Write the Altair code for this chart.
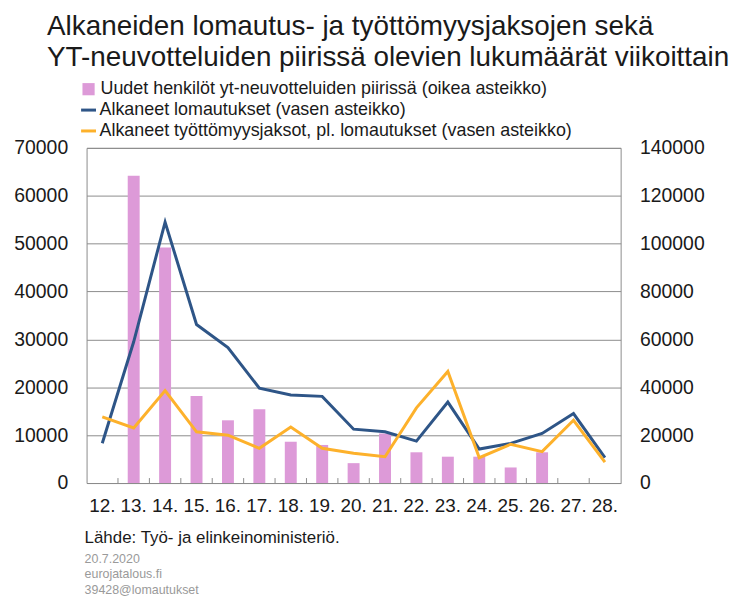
import altair as alt
import pandas as pd

# ---- data ----
weeks = ["12.", "13.", "14.", "15.", "16.", "17.", "18.", "19.", "20.",
         "21.", "22.", "23.", "24.", "25.", "26.", "27.", "28."]
layoffs = [8300, 29500, 54500, 33100, 28300, 19800, 18400, 18100, 11250,
           10700, 8760, 16900, 7100, 8280, 10350, 14500, 5300]
unemployment = [13800, 11500, 19300, 10700, 10000, 7250, 11700, 7250, 6200,
                5500, 15700, 23300, 5300, 8100, 6550, 13100, 4350]
yt_weeks = ["13.", "14.", "15.", "16.", "17.", "18.", "19.", "20.",
            "21.", "22.", "23.", "24.", "25.", "26."]
yt_people = [128400, 98400, 36300, 26200, 30800, 17250, 15900, 8300,
             20700, 12840, 11000, 11000, 6500, 12840]

left_ticks = [0, 10000, 20000, 30000, 40000, 50000, 60000, 70000]
right_ticks = [0, 20000, 40000, 60000, 80000, 100000, 120000, 140000]

series_bar = "Uudet henkilöt yt-neuvotteluiden piirissä (oikea asteikko)"
series_blue = "Alkaneet lomautukset (vasen asteikko)"
series_orange = "Alkaneet työttömyysjaksot, pl. lomautukset (vasen asteikko)"

title_lines = ["Alkaneiden lomautus- ja työttömyysjaksojen sekä",
               "YT-neuvotteluiden piirissä olevien lukumäärät viikoittain"]
source_line = "Lähde: Työ- ja elinkeinoministeriö."
footer_lines = ["20.7.2020", "eurojatalous.fi", "39428@lomautukset"]

# ---- tables ----
bar_df = pd.DataFrame({"week": yt_weeks, "value": yt_people, "series": series_bar})
line_df = pd.concat([
    pd.DataFrame({"week": weeks, "value": layoffs, "series": series_blue}),
    pd.DataFrame({"week": weeks, "value": unemployment, "series": series_orange}),
], ignore_index=True)
tick_df = pd.DataFrame({"week": weeks[1:]})

W, H = 537, 337
FONT = "Liberation Sans"
GRAY = "#8c8c8c"
TXT = "#1a1a1a"

xscale = alt.Scale(domain=weeks, paddingInner=0, paddingOuter=0)
xaxis = alt.Axis(title=None, labelFontSize=19, labelPadding=14, ticks=False,
                 domainColor=GRAY, labelColor=TXT, labelAngle=0)

bars = alt.Chart(bar_df).mark_bar(size=12).encode(
    x=alt.X("week:N", scale=xscale, axis=xaxis, sort=weeks),
    y=alt.Y("value:Q", scale=alt.Scale(domain=[0, 140000], nice=False),
            axis=alt.Axis(orient="right", values=right_ticks, grid=False, ticks=False,
                          domain=False, labelPadding=19, labelFontSize=19.5,
                          labelColor=TXT, title=None, format="d")),
    fill=alt.Fill("series:N", scale=alt.Scale(domain=[series_bar], range=["#DD9AD8"]),
                  legend=alt.Legend(orient="none", legendX=-7, legendY=-68, title=None,
                                    symbolType="square", symbolSize=150,
                                    symbolStrokeWidth=0, labelFontSize=18,
                                    labelLimit=0, labelOffset=3, labelColor=TXT)),
)

lines = alt.Chart(line_df).mark_line(strokeWidth=3).encode(
    x=alt.X("week:N", scale=xscale, axis=xaxis, sort=weeks),
    y=alt.Y("value:Q", scale=alt.Scale(domain=[0, 70000], nice=False),
            axis=alt.Axis(orient="left", values=left_ticks, grid=True, gridColor=GRAY,
                          ticks=False, domain=False, labelPadding=19, labelFontSize=19.5,
                          labelColor=TXT, title=None, format="d")),
    stroke=alt.Stroke("series:N",
                      scale=alt.Scale(domain=[series_blue, series_orange],
                                      range=["#2E5587", "#FDB12B"]),
                      legend=alt.Legend(orient="none", legendX=-7, legendY=-47, title=None,
                                        symbolType="stroke", symbolStrokeWidth=3,
                                        symbolSize=225, labelFontSize=18, labelLimit=0,
                                        labelOffset=2, rowPadding=3, labelColor=TXT)),
)

ticks = alt.Chart(tick_df).mark_rule(color=GRAY, strokeWidth=1).encode(
    x=alt.X("week:N", scale=xscale, axis=xaxis, sort=weeks, bandPosition=0),
    y=alt.value(H - 5),
    y2=alt.value(H),
)

panel = alt.layer(bars, lines, ticks).resolve_scale(y="independent").properties(
    width=W, height=H,
    title=alt.TitleParams(text=source_line, subtitle=footer_lines, orient="bottom",
                          anchor="start", frame="group", fontSize=17,
                          fontWeight="normal", color=TXT, font=FONT,
                          subtitleFontSize=12.5, subtitleColor="#9a9a9a",
                          subtitleFont=FONT, subtitleLineHeight=16,
                          subtitlePadding=6, offset=14, dx=-2),
)

chart = alt.vconcat(panel).properties(
    title=alt.TitleParams(text=title_lines, anchor="start", frame="bounds", fontSize=28,
                          fontWeight="normal", color=TXT, font=FONT, lineHeight=31,
                          dx=34, offset=8),
    padding={"left": 5, "top": 4, "right": 5, "bottom": 5},
).configure(font=FONT).configure_view(stroke=GRAY, strokeWidth=1)

chart.save("out.html", embed_options={"renderer": "svg", "actions": False})
